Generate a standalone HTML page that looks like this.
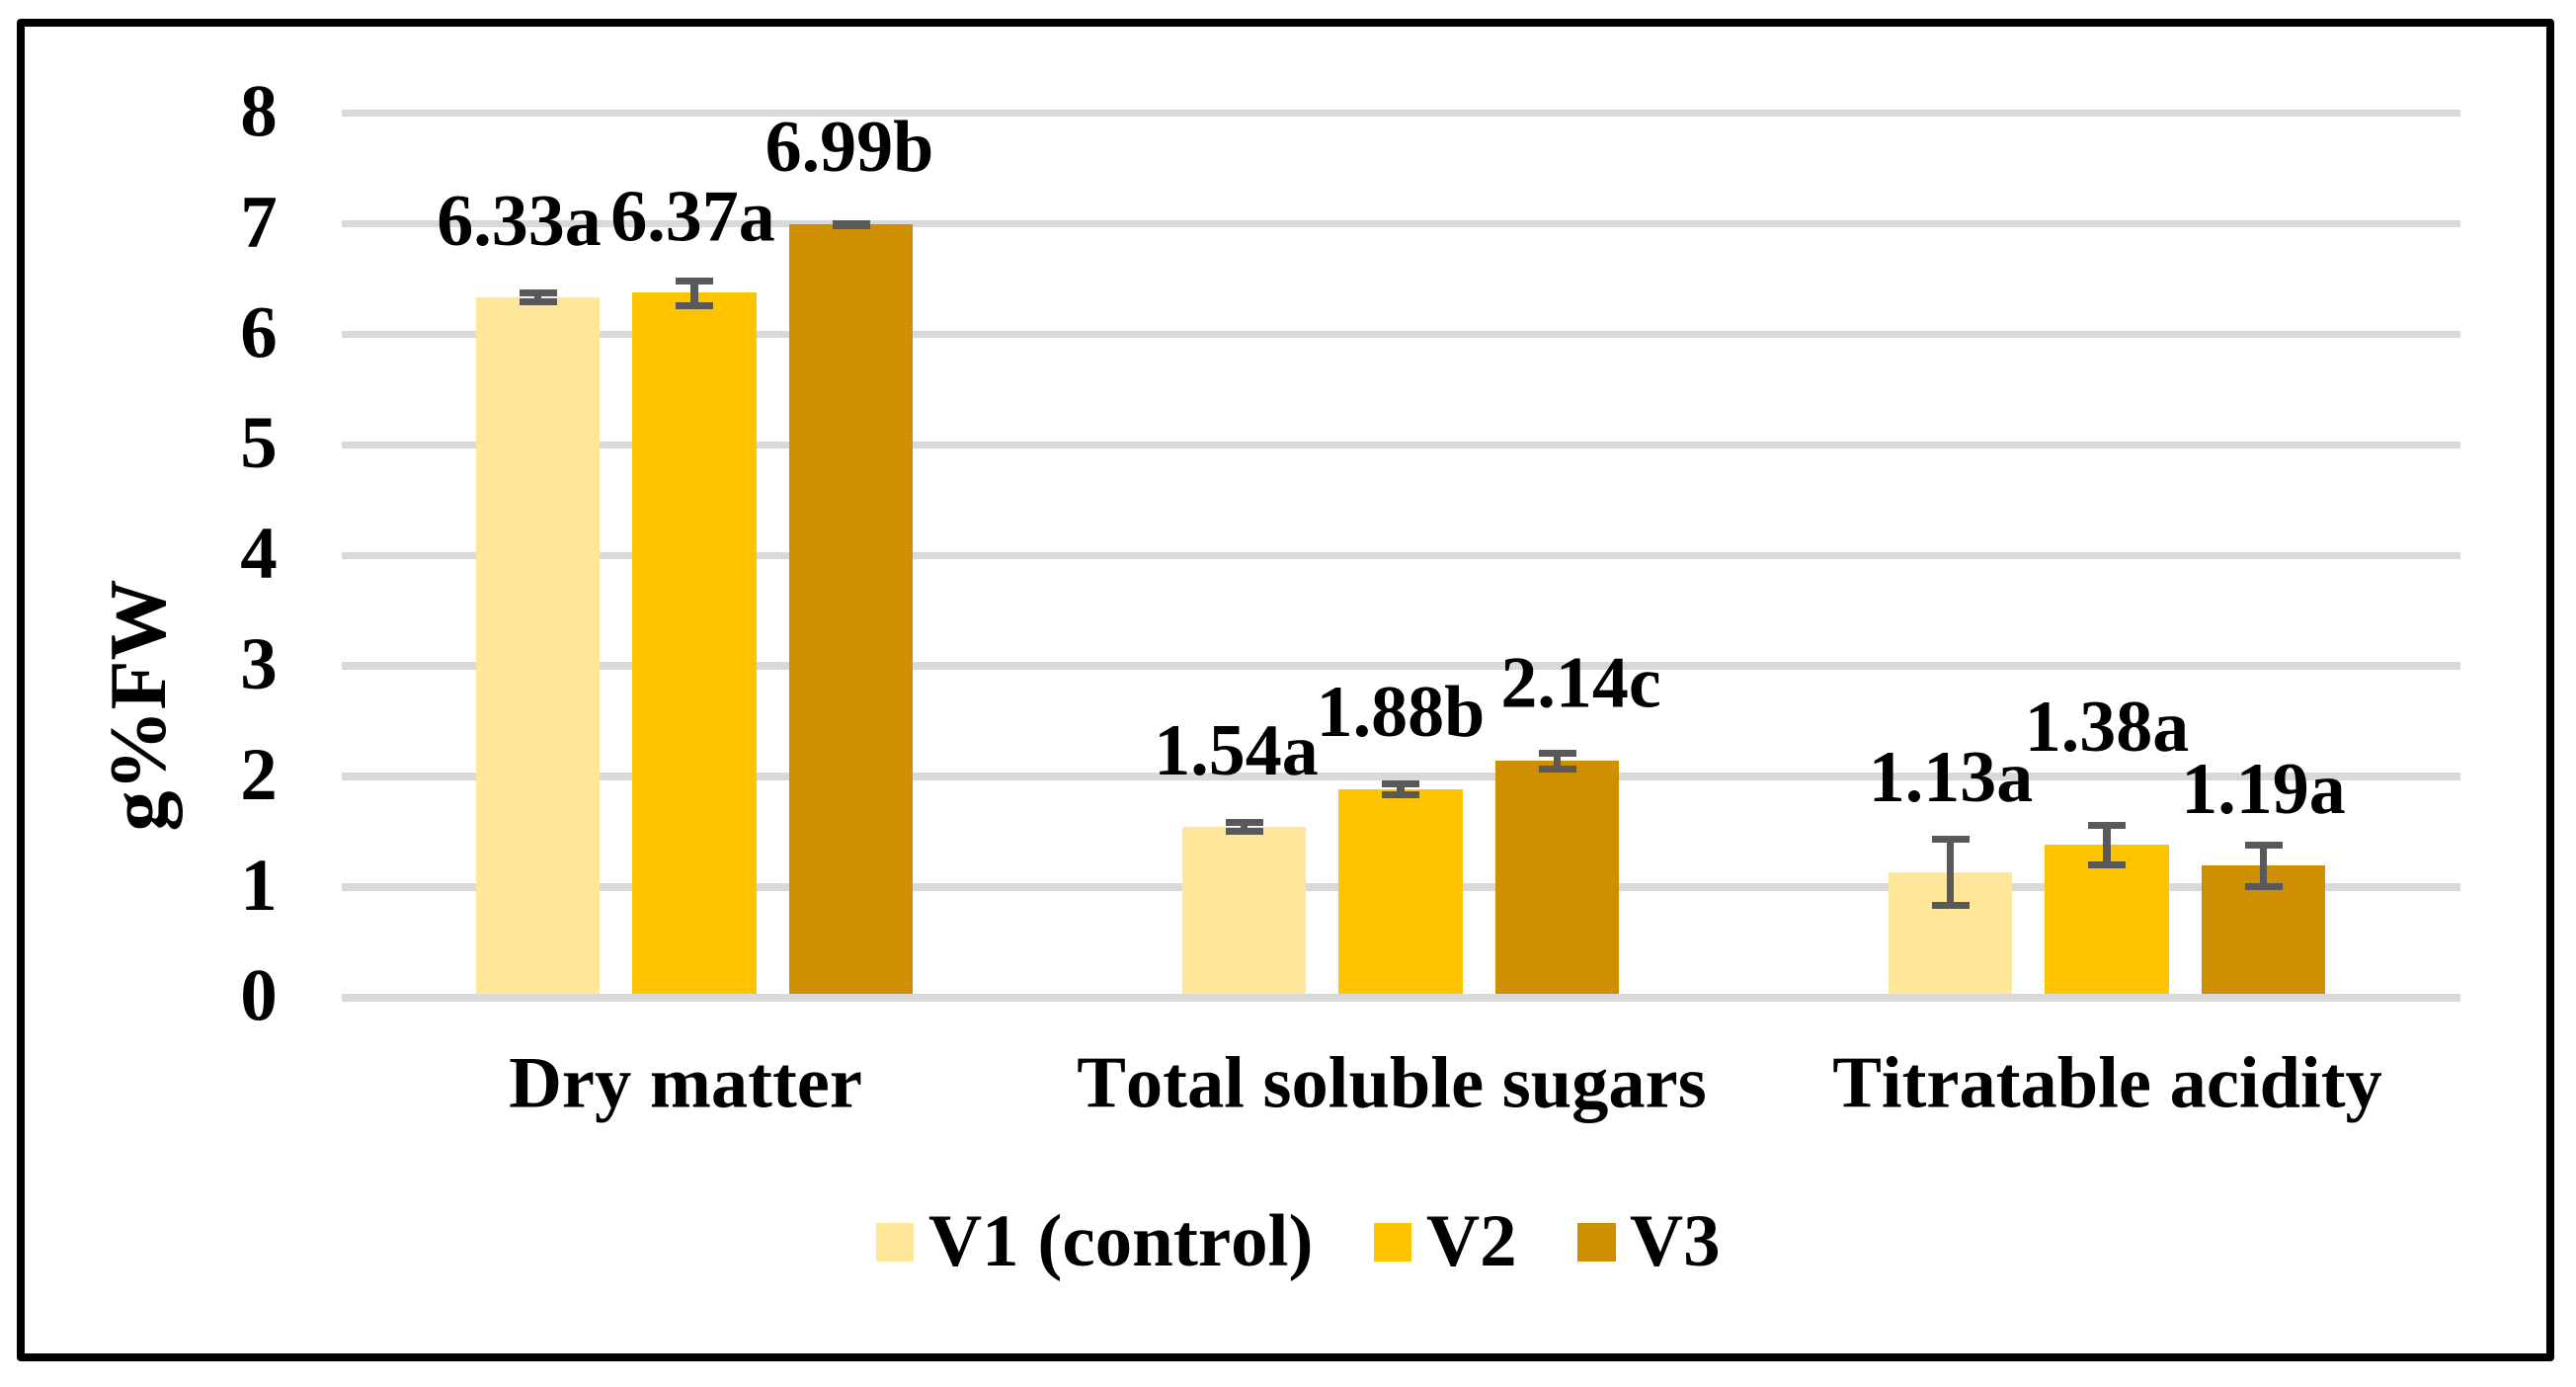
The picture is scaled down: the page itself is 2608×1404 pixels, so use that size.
<!DOCTYPE html>
<html lang="en">
<head>
<meta charset="utf-8">
<title>Dry matter, soluble sugars and acidity chart</title>
<style>
html,body{margin:0;padding:0;background:#fff;}
body{width:2608px;height:1404px;overflow:hidden;}
svg{display:block;}
text{font-family:"Liberation Serif",serif;font-weight:bold;fill:#000;font-kerning:none;}
</style>
</head>
<body>
<svg id="chart" xmlns="http://www.w3.org/2000/svg" width="2608" height="1404" viewBox="0 0 2608 1404">
  <rect x="0" y="0" width="2608" height="1404" fill="#ffffff"/>
  <rect x="21" y="23" width="2561" height="1351" fill="none" stroke="#000000" stroke-width="8" stroke-linejoin="round"/>
  <g id="grid"></g>
  <g id="yticks"></g>
  <g id="bars"></g>
  <g id="axis"></g>
  <g id="errors"></g>
  <g id="labels"></g>
  <g id="cats"></g>
  <text transform="translate(167,714) rotate(-90)" text-anchor="middle" font-size="82">g%FW</text>
  <g id="legend"></g>
</svg>
<script>
const categories = ["Dry matter", "Total soluble sugars", "Titratable acidity"];
const seriesNames = ["V1 (control)", "V2", "V3"];
const v1Values = [6.33, 1.54, 1.13];
const v2Values = [6.37, 1.88, 1.38];
const v3Values = [6.99, 2.14, 1.19];
const v1Errors = [0.04, 0.04, 0.30];
const v2Errors = [0.11, 0.05, 0.18];
const v3Errors = [0.013, 0.07, 0.19];
const v1Letters = ["a", "a", "a"];
const v2Letters = ["a", "b", "a"];
const v3Letters = ["b", "c", "a"];
const tickLabels = ["0", "1", "2", "3", "4", "5", "6", "7", "8"];

function draw() {
  const NS = "http://www.w3.org/2000/svg";
  const seriesValues = [v1Values, v2Values, v3Values];
  const seriesErrors = [v1Errors, v2Errors, v3Errors];
  const seriesLetters = [v1Letters, v2Letters, v3Letters];
  const colors = ["#FEE79B", "#FFC400", "#CE9000"];
  const errColor = "#595959";

  const plotLeft = 345.5, plotRight = 2490.5, groupWidth = (plotRight - plotLeft) / categories.length;
  const y0 = 1009.7, unit = 111.9;
  const barW = 125.6, barStep = 158.5, capW = 38, capH = 7, stemW = 7.5;
  const yScale = v => y0 - unit * v;
  const groupCenter = g => plotLeft + groupWidth * (g + 0.5);
  const barCenter = (g, s) => groupCenter(g) + (s - 1) * barStep;

  /* manually dragged data-label layout: [series][category] => [dx, dy] from bar-top centre */
  const labelLayout = [
    [[-19, -53.5], [-8, -53.5], [0.5, -72.5]],
    [[-1.5, -53.5], [0, -54.5], [0, -95.5]],
    [[-1.5, -54.5], [24, -54.5], [0, -53.5]]
  ];

  function mk(tag, attrs, parent) {
    const el = document.createElementNS(NS, tag);
    for (const k in attrs) el.setAttribute(k, attrs[k]);
    parent.appendChild(el);
    return el;
  }
  function crispRect(x, y, w, h, fill, parent) {
    const x1 = Math.round(x), y1 = Math.round(y);
    return mk("rect", {x: x1, y: y1, width: Math.round(x + w) - x1, height: Math.round(y + h) - y1, fill: fill}, parent);
  }

  const gridG = document.getElementById("grid");
  const tickG = document.getElementById("yticks");
  tickLabels.forEach(t => {
    const v = Number(t);
    const yy = yScale(v);
    if (v !== 0) {
      const line = crispRect(plotLeft, yy - 3.6, plotRight - plotLeft, 7.4, "#D9D9D9", gridG);
      
      
    }
    const label = mk("text", {x: 262, y: yy + 23, "text-anchor": "middle", "font-size": 75}, tickG);
    label.textContent = t;
    
    
  });

  const barsG = document.getElementById("bars");
  const errG = document.getElementById("errors");
  const labG = document.getElementById("labels");
  const catG = document.getElementById("cats");

  categories.forEach((cat, g) => {
    seriesValues.forEach((vals, s) => {
      const v = vals[g], e = seriesErrors[s][g], cx = barCenter(g, s), top = yScale(v);
      const barTop = Math.floor(top);
      const bar = crispRect(cx - barW / 2, barTop, barW, y0 - barTop, colors[s], barsG);
      
      

      const eg = mk("g", {}, errG);
      
      
      const yHi = yScale(v + e), yLo = yScale(v - e);
      crispRect(cx - stemW / 2, yHi, stemW, yLo - yHi, errColor, eg);
      crispRect(cx - capW / 2, yHi - capH / 2, capW, capH, errColor, eg);
      crispRect(cx - capW / 2, yLo - capH / 2, capW, capH, errColor, eg);

      const nudge = labelLayout[s][g];
      const lab = mk("text", {x: cx + nudge[0], y: top + nudge[1], "text-anchor": "middle", "font-size": 74}, labG);
      lab.textContent = v.toFixed(2) + seriesLetters[s][g];
      
      
    });

    const catOffsets = [-9, -9, 0.5];
    const catLabel = mk("text", {x: groupCenter(g) + catOffsets[g], y: 1120.5, "text-anchor": "middle", "font-size": 74.5}, catG);
    catLabel.textContent = cat;
    
    
  });

  const axisLine = crispRect(plotLeft, yScale(0) - 3.6, plotRight - plotLeft, 7.4, "#D9D9D9", document.getElementById("axis"));
  
  

  const legendG = document.getElementById("legend");
  const swatchX = [887, 1391, 1597];
  const swatchSize = [38, 38, 39];
  seriesNames.forEach((name, s) => {
    const entry = mk("g", {}, legendG);
    
    
    const sw = mk("rect", {x: swatchX[s], y: 1238, width: swatchSize[s], height: 39, fill: colors[s]}, entry);
    
    
    const tx = mk("text", {x: swatchX[s] + 53, y: 1281, "font-size": 75}, entry);
    tx.textContent = name;
    
    
  });
}
draw();
</script>
</body>
</html>
